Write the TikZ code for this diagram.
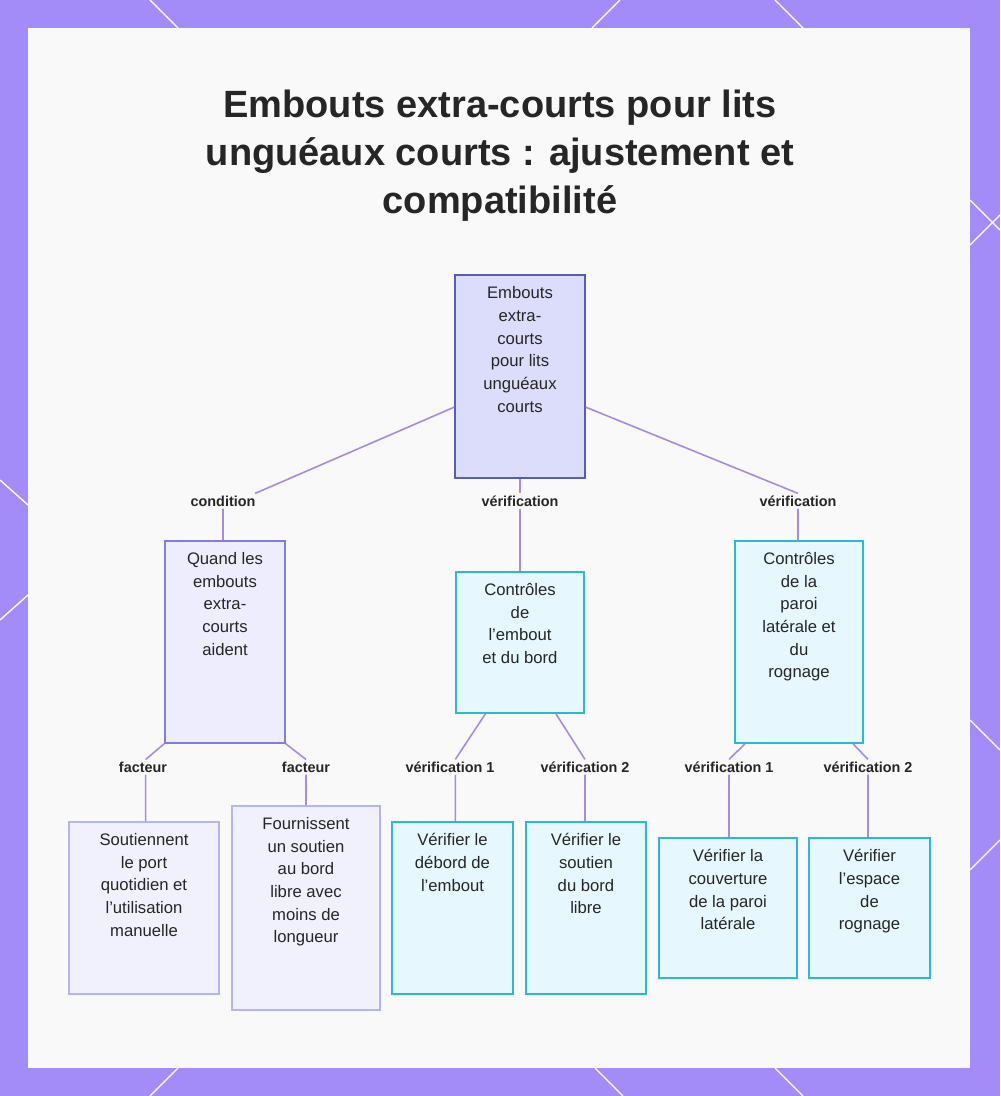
\documentclass[tikz,border=0pt]{standalone}
\usepackage{fontspec}
\setmainfont{Liberation Sans}
\usetikzlibrary{calc}
\definecolor{bgp}{HTML}{A38BF8}
\definecolor{panel}{HTML}{F9F9FA}
\definecolor{edge}{HTML}{A88BE0}
\definecolor{rootf}{HTML}{DCDCFB}\definecolor{rootd}{HTML}{5B5BB8}
\definecolor{purf}{HTML}{EDEDFE}\definecolor{purd}{HTML}{7E7EE2}
\definecolor{cyf}{HTML}{E6F7FD}\definecolor{cyd}{HTML}{2BB9CF}
\definecolor{lpf}{HTML}{F1F1FE}\definecolor{lpd}{HTML}{B4B4F0}
\begin{document}
\begin{tikzpicture}[x=0.75pt,y=-0.75pt,
  box/.style={draw, line width=1.2pt, inner sep=0pt},
  txt/.style={label={[anchor=north, align=center, font=\fontsize{12.5}{17}\selectfont, text=black!85, inner sep=0pt, yshift=-9pt]north:{#1}}},
  rootb/.style={box, fill=rootf, draw=rootd},
  purb/.style={box, fill=purf, draw=purd},
  cyb/.style={box, fill=cyf, draw=cyd},
  leafp/.style={box, fill=lpf, draw=lpd},
  lab/.style={font=\bfseries\fontsize{10.8}{13}\selectfont, text=black!85, inner sep=1.5pt},
  con/.style={draw=edge, line width=1.2pt}]
\useasboundingbox (0,0) rectangle (1000,1096);
\fill[bgp] (0,0) rectangle (1000,1096);
\fill[panel] (28,28) rectangle (970,1068);
\foreach \a/\b/\c/\d in {150/0/178/28, 620/0/592/28, 775/0/803/28, 970/200/1000/230, 970/245/1000/215, 0/480/28/505, 0/620/28/595, 970/720/1000/750, 970/870/1000/840, 150/1096/178/1068, 595/1068/623/1096, 775/1068/803/1096}
  \draw[white, line width=1pt] (\a,\b) -- (\c,\d);
\node[font=\bfseries\fontsize{28.5}{36}\selectfont, align=center, text=black!85] (title) at (500,156) {Embouts extra-courts pour lits\\unguéaux courts : ajustement et\\compatibilité};
% main nodes
\node[rootb, minimum width=97.5pt, minimum height=152pt, txt={Embouts\\extra-\\courts\\pour lits\\unguéaux\\courts}] (root) at (520,376.5) {};
\node[purb, minimum width=90pt, minimum height=151.5pt, txt={Quand les\\embouts\\extra-\\courts\\aident}] (A) at (225,642) {};
\node[cyb, minimum width=96pt, minimum height=106pt, txt={Contrôles\\de\\l'embout\\et du bord}] (B) at (520,642.5) {};
\node[cyb, minimum width=96pt, minimum height=151.5pt, txt={Contrôles\\de la\\paroi\\latérale et\\du\\rognage}] (C) at (799,642) {};
\node[leafp, minimum width=112.5pt, minimum height=129pt, txt={Soutiennent\\le port\\quotidien et\\l'utilisation\\manuelle}] (L1) at (144,908) {};
\node[leafp, minimum width=111pt, minimum height=153pt, txt={Fournissent\\un soutien\\au bord\\libre avec\\moins de\\longueur}] (L2) at (306,908) {};
\node[cyb, minimum width=91pt, minimum height=129pt, txt={Vérifier le\\débord de\\l'embout}] (L3) at (452.5,908) {};
\node[cyb, minimum width=90pt, minimum height=129pt, txt={Vérifier le\\soutien\\du bord\\libre}] (L4) at (586,908) {};
\node[cyb, minimum width=103.5pt, minimum height=105pt, txt={Vérifier la\\couverture\\de la paroi\\latérale}] (L5) at (728,908) {};
\node[cyb, minimum width=91pt, minimum height=105pt, txt={Vérifier\\l'espace\\de\\rognage}] (L6) at (869.5,908) {};
% labels
\node[lab] (e1) at (223,501) {condition};
\node[lab] (e2) at (520,501) {vérification};
\node[lab] (e3) at (798,501) {vérification};
\node[lab] (f1) at (143,767) {facteur};
\node[lab] (f2) at (306,767) {facteur};
\node[lab] (g1) at (450,767) {vérification 1};
\node[lab] (g2) at (585,767) {vérification 2};
\node[lab] (h1) at (729,767) {vérification 1};
\node[lab] (h2) at (868,767) {vérification 2};
% connectors
\path[con] ([yshift=-23pt]root.west) -- ([xshift=24pt]e1.north) (e1.south) -- (e1.south |- A.north);
\path[con] (root.south) -- (e2.north) (e2.south) -- (B.north);
\path[con] ([yshift=-23pt]root.east) -- (e3.north) (e3.south) -- (e3.south |- C.north);
\path[con] (A.south west) -- ([xshift=2pt]f1.north) ([xshift=2pt]f1.south) -- ([xshift=2pt]f1.south |- L1.north);
\path[con] (A.south east) -- (f2.north) (f2.south) -- (L2.north);
\path[con] ([xshift=-26pt]B.south) -- ([xshift=4pt]g1.north) ([xshift=4pt]g1.south) -- ([xshift=4pt]g1.south |- L3.north);
\path[con] ([xshift=27pt]B.south) -- (g2.north) (g2.south) -- (g2.south |- L4.north);
\path[con] ([xshift=-40.5pt]C.south) -- (h1.north) (h1.south) -- (h1.south |- L5.north);
\path[con] ([xshift=40.5pt]C.south) -- (h2.north) (h2.south) -- (h2.south |- L6.north);
\end{tikzpicture}
\end{document}
